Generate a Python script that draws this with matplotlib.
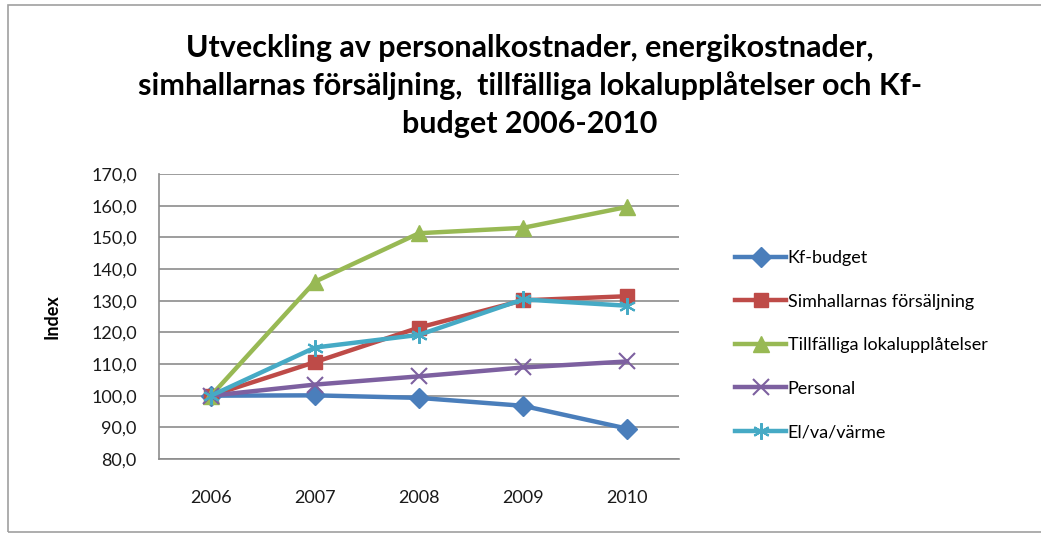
import matplotlib.pyplot as plt
from matplotlib.patches import Rectangle

plt.rcParams['font.family'] = ['Lato', 'DejaVu Sans']

years = ['2006', '2007', '2008', '2009', '2010']
kf_budget = [100.0, 100.1, 99.3, 96.8, 89.6]
simhallar = [100.0, 110.6, 121.5, 130.1, 131.4]
tillfalliga = [100.0, 136.0, 151.3, 153.0, 159.6]
personal = [100.0, 103.5, 106.1, 108.9, 110.8]
el_va_varme = [100.0, 115.2, 119.2, 130.4, 128.4]

series = [
    ("Kf-budget", kf_budget, '#4a7ebb', 'D', 10),
    ("Simhallarnas försäljning", simhallar, '#be4b48', 's', 10),
    ("Tillfälliga lokalupplåtelser", tillfalliga, '#98b954', '^', 11),
    ("Personal", personal, '#7d60a0', 'x', 11),
    ("El/va/värme", el_va_varme, '#46aac5', (6, 2, 0), 12),
]

fig = plt.figure(figsize=(10.41, 5.34), dpi=100)
fig.patches.append(Rectangle((8 / 1041, 2 / 534), 1.0, 1 - 7 / 534, transform=fig.transFigure,
                             fill=False, edgecolor='#a0a0a0', linewidth=1.2))

ax = fig.add_axes([159 / 1041, 1 - 459 / 534, 520 / 1041, 285 / 534])
x = range(len(years))
for name, vals, col, mk, ms in series:
    kw = {}
    if mk in ('x', (6, 2, 0)):
        kw = dict(markeredgewidth=1.5)
    ax.plot(x, vals, color=col, linewidth=3.2, marker=mk, markersize=ms,
            markerfacecolor=col, markeredgecolor=col, label=name, **kw)

ax.set_xlim(-0.5, 4.5)
ax.set_ylim(80, 170)
ax.set_yticks(range(80, 171, 10))
ax.set_yticklabels([f"{v},0" for v in range(80, 171, 10)])
ax.set_xticks(list(x))
ax.set_xticklabels(years)
ax.tick_params(axis='both', length=0, labelsize=13, colors='#1a1a1a')
ax.tick_params(axis='y', pad=16)
ax.tick_params(axis='x', pad=22)
ax.grid(axis='y', color='#8c8c8c', linewidth=1.2)
ax.set_axisbelow(True)
for s in ['top', 'right']:
    ax.spines[s].set_visible(False)
for s in ['left', 'bottom']:
    ax.spines[s].set_color('#8c8c8c')
    ax.spines[s].set_linewidth(1.2)
ax.set_ylabel('Index', fontsize=13, fontweight='bold', labelpad=22)

fig.suptitle("Utveckling av personalkostnader, energikostnader,\n"
             "simhallarnas försäljning,  tillfälliga lokalupplåtelser och Kf-\n"
             "budget 2006-2010",
             x=530 / 1041, y=1 - 34 / 534, fontsize=22, fontweight='bold',
             linespacing=1.4, va='top')

ax.legend(loc='upper left', bbox_to_anchor=(719 / 1041, 1 - 234 / 534),
          bbox_transform=fig.transFigure, frameon=False, fontsize=13,
          handlelength=2.8, handletextpad=0.1, labelspacing=1.52)

fig.savefig('out.png', dpi=100)
